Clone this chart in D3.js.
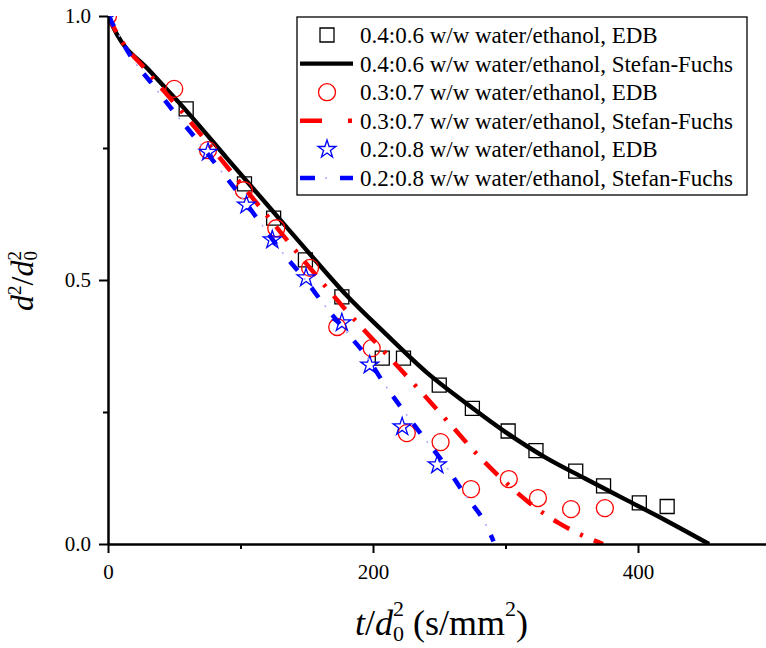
<!DOCTYPE html>
<html><head><meta charset="utf-8">
<script src="https://cdn.jsdelivr.net/npm/d3@7"></script>
<style>
body{margin:0;background:#fff}
svg{display:block}
svg text{font-family:"Liberation Serif","Times New Roman",Times,Tinos,"DejaVu Serif","Noto Serif",serif !important;fill:#000;white-space:pre}
</style>
</head><body><svg id="c" width="766" height="648"></svg>
<script>
// ---- data ----
const xTicks = [0, 200, 400];
const xMinor = [100, 300, 500];
const yTicks = [0, 0.5, 1.0];
const yMinor = [0.25, 0.75];

const edb04X = [59, 103, 125, 149, 176.5, 207, 223, 250, 275, 302, 323, 353, 374, 401, 422];
const edb04Y = [0.824, 0.682, 0.617, 0.538, 0.468, 0.352, 0.352, 0.301, 0.257, 0.214, 0.177, 0.138, 0.110, 0.078, 0.071];

const edb03X = [0, 50, 75.5, 102.5, 127, 152.5, 173, 199, 225.5, 251, 274, 302.5, 324.5, 349.5, 375];
const edb03Y = [1.0, 0.862, 0.746, 0.67, 0.598, 0.523, 0.411, 0.371, 0.21, 0.193, 0.104, 0.123, 0.087, 0.066, 0.068];

const edb02X = [0, 75.5, 104.5, 124, 149.5, 176.5, 197.5, 222, 248.5];
const edb02Y = [1.0, 0.742, 0.642, 0.576, 0.504, 0.419, 0.339, 0.222, 0.15];

const sf04X = [0, 7, 30, 60, 90, 120, 150, 180, 210, 240, 270, 300, 330, 360, 390, 420, 453.6];
const sf04Y = [1.0, 0.964, 0.900, 0.818, 0.730, 0.643, 0.556, 0.471, 0.397, 0.326, 0.267, 0.212, 0.164, 0.124, 0.085, 0.046, 0.0];

const sf03X = [0, 7.5, 30, 60, 90, 120, 150, 180, 210, 240, 260, 280, 300, 320, 340, 360, 373.6];
const sf03Y = [1.0, 0.964, 0.894, 0.806, 0.714, 0.622, 0.530, 0.442, 0.360, 0.278, 0.222, 0.166, 0.117, 0.074, 0.040, 0.014, 0.0];

const sf02X = [0, 5.3, 16.6, 34, 50.6, 67.2, 83, 99.6, 116.2, 131.3, 147.2, 163.8, 180.4, 195.5, 207.5, 222.6, 237, 254.3, 269.4, 284.5, 291];
const sf02Y = [1.0, 0.977, 0.926, 0.869, 0.816, 0.765, 0.714, 0.661, 0.604, 0.553, 0.506, 0.451, 0.4, 0.354, 0.307, 0.254, 0.206, 0.15, 0.093, 0.04, 0.005];

const legendLabels = [
  "0.4:0.6 w/w water/ethanol, EDB",
  "0.4:0.6 w/w water/ethanol, Stefan-Fuchs",
  "0.3:0.7 w/w water/ethanol, EDB",
  "0.3:0.7 w/w water/ethanol, Stefan-Fuchs",
  "0.2:0.8 w/w water/ethanol, EDB",
  "0.2:0.8 w/w water/ethanol, Stefan-Fuchs"
];

// ---- drawing ----
const FONT = '"Liberation Serif","Times New Roman",Times,Tinos,"DejaVu Serif",serif';
const svg = d3.select("#c");
const x = d3.scaleLinear().domain([0, 500]).range([108, 770.5]);
const y = d3.scaleLinear().domain([0, 1]).range([544, 16]);

svg.append("defs").append("clipPath").attr("id", "plotclip")
  .append("rect").attr("x", x(0)).attr("y", y(1)).attr("width", 766 - x(0)).attr("height", y(0) - y(1));
const plot = svg.append("g").attr("clip-path", "url(#plotclip)");

const zip = (a, b) => a.map((v, i) => [v, b[i]]);
const line = d3.line().x(d => x(d[0])).y(d => y(d[1])).curve(d3.curveMonotoneX);

const RED = "#ff0000", BLUE = "#0000ff";

const symSquare = d3.symbol(d3.symbolSquare, 196)();
const symCircle = d3.symbol(d3.symbolCircle, 227)();
const symStar = d3.symbol(d3.symbolStar, 100)();

function markers(xs, ys, path, color) {
  plot.append("g").selectAll("path").data(zip(xs, ys)).join("path")
    .attr("d", path)
    .attr("transform", d => `translate(${x(d[0])},${y(d[1])})`)
    .attr("fill", "none").attr("stroke", color).attr("stroke-width", 1.3);
}

// series in legend order
markers(edb04X, edb04Y, symSquare, "#000");
plot.append("path").attr("d", line(zip(sf04X, sf04Y)))
  .attr("fill", "none").attr("stroke", "#000").attr("stroke-width", 4.4);

markers(edb03X, edb03Y, symCircle, RED);
plot.append("path").attr("d", line(zip(sf03X, sf03Y)))
  .attr("fill", "none").attr("stroke", RED).attr("stroke-width", 4.5)
  .attr("stroke-dasharray", "18,12,3,12");

markers(edb02X, edb02Y, symStar, BLUE);
plot.append("path").attr("d", line(zip(sf02X, sf02Y)))
  .attr("fill", "none").attr("stroke", BLUE).attr("stroke-width", 4.5)
  .attr("stroke-dasharray", "12,22");
plot.append("path").attr("d", line(zip(sf02X, sf02Y)))
  .attr("fill", "none").attr("stroke", "#a8a8ff").attr("stroke-width", 1.5)
  .attr("stroke-dasharray", "2,32").attr("stroke-dashoffset", -22);

// axes
function styleAxis(g) {
  g.attr("font-family", FONT);
  g.selectAll("path.domain").attr("stroke", "#000").attr("stroke-width", 2);
  g.selectAll(".tick line").attr("stroke", "#000").attr("stroke-width", 2);
  g.selectAll("text").attr("font-size", 21).attr("font-family", FONT).attr("fill", "#000");
}
const gx = svg.append("g").attr("transform", "translate(0,544)")
  .call(d3.axisBottom(x).tickValues(xTicks).tickSize(9).tickSizeOuter(0).tickPadding(11).tickFormat(d3.format("d")));
styleAxis(gx);
const gxm = svg.append("g").attr("transform", "translate(0,544)")
  .call(d3.axisBottom(x).tickValues(xMinor).tickSize(5).tickSizeOuter(0).tickFormat(""));
styleAxis(gxm);
const gy = svg.append("g").attr("transform", "translate(108,0)")
  .call(d3.axisLeft(y).tickValues(yTicks).tickSize(9).tickSizeOuter(0).tickPadding(8).tickFormat(d3.format(".1f")));
styleAxis(gy);
const gym = svg.append("g").attr("transform", "translate(108,0)")
  .call(d3.axisLeft(y).tickValues(yMinor).tickSize(5).tickSizeOuter(0).tickFormat(""));
styleAxis(gym);

// x title
const xt = svg.append("text").attr("x", 355).attr("y", 635).attr("font-size", 36).attr("font-family", FONT);
xt.append("tspan").attr("font-style", "italic").text("t");
xt.append("tspan").text("/");
xt.append("tspan").attr("font-style", "italic").text("d");
xt.append("tspan").attr("font-size", 22).attr("dy", -19).text("2");
xt.append("tspan").attr("font-size", 22).attr("dx", -11).attr("dy", 25).text("0");
xt.append("tspan").attr("dy", -6).text(" (s/mm");
xt.append("tspan").attr("font-size", 22).attr("dy", -19).text("2");
xt.append("tspan").attr("dy", 19).text(")");

// y title
const yt = svg.append("text").attr("transform", "translate(33,281) rotate(-90)")
  .attr("text-anchor", "middle").attr("font-size", 32).attr("font-family", FONT);
yt.append("tspan").attr("font-style", "italic").text("d");
yt.append("tspan").attr("font-size", 19).attr("dy", -12).text("2");
yt.append("tspan").attr("dy", 12).text("/");
yt.append("tspan").attr("font-style", "italic").text("d");
yt.append("tspan").attr("font-size", 19).attr("dy", -12).text("2");
yt.append("tspan").attr("font-size", 19).attr("dx", -9.5).attr("dy", 16).text("0");

// legend
const lg = svg.append("g").attr("font-family", FONT);
lg.append("rect").attr("x", 297).attr("y", 17).attr("width", 450).attr("height", 178)
  .attr("fill", "#fff").attr("stroke", "#000").attr("stroke-width", 1.3);
const rowY = i => 35 + i * 28.6;
legendLabels.forEach((t, i) => {
  lg.append("text").attr("x", 360).attr("y", rowY(i)).attr("dy", "0.35em")
    .attr("font-size", 23).text(t);
});
const addSym = (i, p, c) => lg.append("path").attr("d", p)
  .attr("transform", `translate(327,${rowY(i)})`).attr("fill", "none").attr("stroke", c).attr("stroke-width", 1.3);
const addLine = (i, c, w, dash, off) => {
  const p = lg.append("line").attr("x1", 300).attr("x2", 353).attr("y1", rowY(i)).attr("y2", rowY(i))
    .attr("stroke", c).attr("stroke-width", w);
  if (dash) p.attr("stroke-dasharray", dash);
  if (off) p.attr("stroke-dashoffset", off);
};
addSym(0, symSquare, "#000");
addLine(1, "#000", 4.4);
addSym(2, symCircle, RED);
addLine(3, RED, 4.5, "22,26,4,50");
addSym(4, symStar, BLUE);
addLine(5, BLUE, 4.5, "15,25,13,50");
addLine(5, "#a8a8ff", 1.5, "2,100", -25);
</script></body></html>
